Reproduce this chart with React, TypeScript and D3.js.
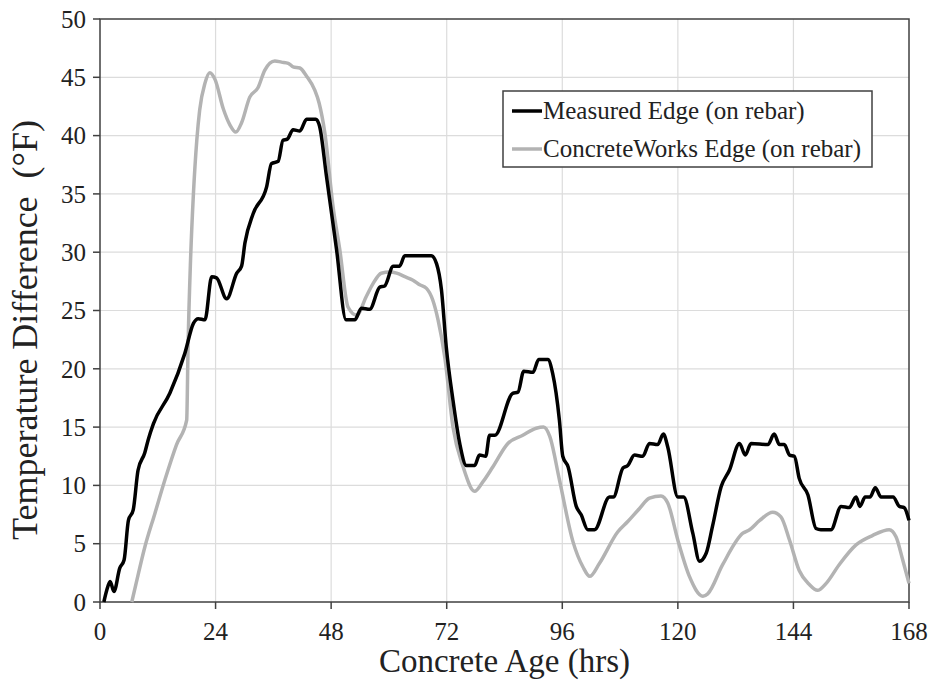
import React from 'react';
import * as d3 from 'd3';

// Measured edge temperature difference (hrs, °F)
const measuredHrs = [0.8, 1.4, 2.1, 2.9, 4.1, 5.0, 5.9, 6.9, 7.9, 9.3, 10.0, 11.1, 14.5, 17.6, 19.4, 20.4, 21.8, 23.2, 24.2, 26.3, 28.4, 29.4, 30.1, 31.8, 34.6, 35.6, 37.0, 38.0, 38.9, 40.1, 41.5, 42.9, 44.8, 45.6, 47.0, 49.1, 51.1, 52.9, 54.3, 56.0, 58.1, 59.1, 60.9, 62.2, 63.3, 68.8, 69.9, 70.9, 71.9, 73.3, 74.7, 76.1, 77.8, 78.8, 80.1, 80.9, 82.0, 85.7, 86.8, 88.0, 89.9, 91.1, 93.0, 94.0, 95.4, 96.1, 97.2, 98.9, 99.9, 101.3, 102.7, 105.8, 106.6, 108.6, 109.6, 111.0, 112.7, 114.1, 115.8, 117.0, 117.9, 120.0, 121.2, 123.1, 124.5, 125.9, 127.2, 129.0, 130.7, 132.8, 134.0, 135.2, 138.7, 140.0, 141.1, 142.1, 143.2, 144.2, 145.2, 147.0, 148.7, 149.7, 151.8, 153.9, 155.6, 157.0, 157.8, 158.9, 159.9, 161.0, 162.2, 164.7, 166.0, 167.0, 168.0];
const measuredVals = [0.0, 1.0, 1.75, 0.9, 2.9, 3.6, 7.0, 7.9, 11.3, 12.8, 13.9, 15.3, 17.9, 21.3, 23.9, 24.3, 24.2, 27.9, 27.8, 26.0, 28.2, 28.8, 30.8, 33.3, 35.6, 37.6, 37.8, 39.6, 39.7, 40.5, 40.4, 41.4, 41.4, 40.8, 36.6, 30.3, 24.2, 24.2, 25.2, 25.1, 27.0, 27.1, 28.8, 28.8, 29.7, 29.7, 29.0, 26.8, 21.9, 17.3, 13.6, 11.7, 11.7, 12.6, 12.5, 14.3, 14.3, 17.9, 18.0, 19.8, 19.7, 20.8, 20.8, 19.6, 15.6, 12.5, 11.6, 8.2, 7.5, 6.2, 6.2, 9.0, 9.0, 11.5, 11.7, 12.6, 12.5, 13.6, 13.5, 14.4, 13.3, 9.0, 9.0, 5.9, 3.5, 4.2, 6.5, 9.9, 11.3, 13.6, 12.6, 13.6, 13.5, 14.4, 13.5, 13.5, 12.6, 12.5, 10.6, 9.2, 6.3, 6.2, 6.2, 8.2, 8.1, 9.0, 8.2, 9.0, 9.0, 9.8, 9.0, 9.0, 8.2, 8.1, 7.0];

// ConcreteWorks prediction (hrs, °F)
const modelHrs = [6.6, 7.5, 9.3, 11.4, 13.5, 15.9, 18.0, 18.3, 18.8, 19.4, 20.1, 20.7, 21.8, 22.8, 23.9, 25.6, 27.0, 28.2, 29.4, 31.1, 32.8, 34.2, 36.3, 37.7, 39.1, 40.1, 41.5, 42.9, 44.6, 45.5, 46.7, 48.4, 49.8, 51.5, 53.3, 55.3, 56.7, 58.4, 60.2, 61.6, 63.3, 65.0, 66.4, 67.8, 69.1, 70.2, 71.6, 73.3, 75.4, 77.8, 79.5, 81.6, 84.7, 87.8, 90.6, 92.1, 93.4, 95.4, 98.2, 100.3, 101.7, 103.7, 107.5, 109.6, 112.0, 114.1, 116.5, 117.9, 120.0, 122.4, 125.2, 126.2, 129.3, 133.5, 134.9, 137.0, 139.7, 141.4, 143.2, 145.2, 147.3, 149.0, 150.8, 153.5, 157.0, 160.4, 163.9, 165.3, 166.7, 168.0];
const modelVals = [0.0, 1.6, 4.7, 7.6, 10.5, 13.5, 15.6, 22.2, 29.3, 35.0, 39.6, 42.2, 44.5, 45.4, 44.8, 42.3, 40.9, 40.3, 41.1, 43.3, 44.1, 45.6, 46.4, 46.3, 46.2, 45.9, 45.8, 45.1, 43.9, 42.8, 40.2, 33.9, 30.2, 25.3, 24.6, 26.2, 27.3, 28.2, 28.3, 28.2, 27.9, 27.6, 27.2, 26.9, 25.9, 24.2, 21.0, 15.0, 11.6, 9.5, 10.3, 11.6, 13.6, 14.3, 14.9, 15.0, 14.2, 10.5, 5.2, 3.0, 2.2, 3.3, 6.0, 6.9, 8.0, 8.9, 9.1, 8.5, 5.3, 2.2, 0.5, 0.7, 3.2, 5.9, 6.2, 7.0, 7.7, 7.3, 5.3, 2.7, 1.5, 1.0, 1.6, 3.2, 4.9, 5.7, 6.2, 5.6, 3.6, 1.6];

const xTicks = [0, 24, 48, 72, 96, 120, 144, 168];
const yTicks = [0, 5, 10, 15, 20, 25, 30, 35, 40, 45, 50];
const seriesNames = ['Measured Edge (on rebar)', 'ConcreteWorks Edge (on rebar)'];
const seriesColors = ['#000000', '#b3b3b3'];

const W = 935;
const H = 685;
const margin = { top: 19, right: 26, bottom: 83, left: 100 };
const FONT = "'Liberation Serif', 'DejaVu Serif', serif";

const App: React.FC = () => {
  const x = d3.scaleLinear().domain([0, 168]).range([margin.left, W - margin.right]);
  const y = d3.scaleLinear().domain([0, 50]).range([H - margin.bottom, margin.top]);

  const line = d3.line<[number, number]>()
    .x(d => x(d[0]))
    .y(d => y(d[1]))
    .curve(d3.curveMonotoneX);

  const measured = measuredHrs.map((h, i) => [h, measuredVals[i]] as [number, number]);
  const model = modelHrs.map((h, i) => [h, modelVals[i]] as [number, number]);

  const x0 = x(0), x1 = x(168), y0 = y(0), y1 = y(50);
  const axisColor = '#404040';
  const txt = { fontFamily: FONT, fill: '#222' };

  return (
    <svg width={W} height={H} style={{ position: 'absolute', left: 0, top: 0, background: '#fff' }}>
      {/* grid */}
      {yTicks.slice(1, -1).map(t => (
        <line key={'gy' + t} x1={x0} x2={x1} y1={y(t)} y2={y(t)} stroke="#dcdcdc" strokeWidth={1.2} />
      ))}
      {xTicks.slice(1, -1).map(t => (
        <line key={'gx' + t} x1={x(t)} x2={x(t)} y1={y0} y2={y1} stroke="#dcdcdc" strokeWidth={1.2} />
      ))}

      {/* frame */}
      <rect x={x0} y={y1} width={x1 - x0} height={y0 - y1} fill="none" stroke={axisColor} strokeWidth={1.5} />

      {/* ticks */}
      {yTicks.map(t => (
        <g key={'ty' + t}>
          <line x1={x0 - 7} x2={x0} y1={y(t)} y2={y(t)} stroke={axisColor} strokeWidth={1.5} />
          <text x={x0 - 14} y={y(t)} dy="0.35em" textAnchor="end" fontSize={25} style={txt}>{t}</text>
        </g>
      ))}
      {xTicks.map(t => (
        <g key={'tx' + t}>
          <line x1={x(t)} x2={x(t)} y1={y0} y2={y0 + 7} stroke={axisColor} strokeWidth={1.5} />
          <text x={x(t)} y={y0 + 38} textAnchor="middle" fontSize={25} style={txt}>{t}</text>
        </g>
      ))}

      {/* series */}
      <path d={line(model) ?? ''} fill="none" stroke={seriesColors[1]} strokeWidth={3.5} strokeLinejoin="round" />
      <path d={line(measured) ?? ''} fill="none" stroke={seriesColors[0]} strokeWidth={3.5} strokeLinejoin="round" />

      {/* axis titles */}
      <text x={(x0 + x1) / 2} y={672} textAnchor="middle" fontSize={33} style={txt}>Concrete Age (hrs)</text>
      <text transform="translate(37, 330) rotate(-90)" textAnchor="middle" fontSize={36} style={{ ...txt, whiteSpace: 'pre' }}>
        {'Temperature Difference  (°F)'}
      </text>

      {/* legend */}
      <g>
        <rect x={503} y={91} width={369} height={76} fill="#fff" stroke={axisColor} strokeWidth={1.5} />
        {seriesNames.map((name, i) => (
          <g key={name}>
            <line x1={512} x2={542} y1={111 + i * 38} y2={111 + i * 38} stroke={seriesColors[i]} strokeWidth={3.5} />
            <text x={543} y={111 + i * 38} dy="0.33em" fontSize={25} style={txt}>{name}</text>
          </g>
        ))}
      </g>
    </svg>
  );
};

export default App;
